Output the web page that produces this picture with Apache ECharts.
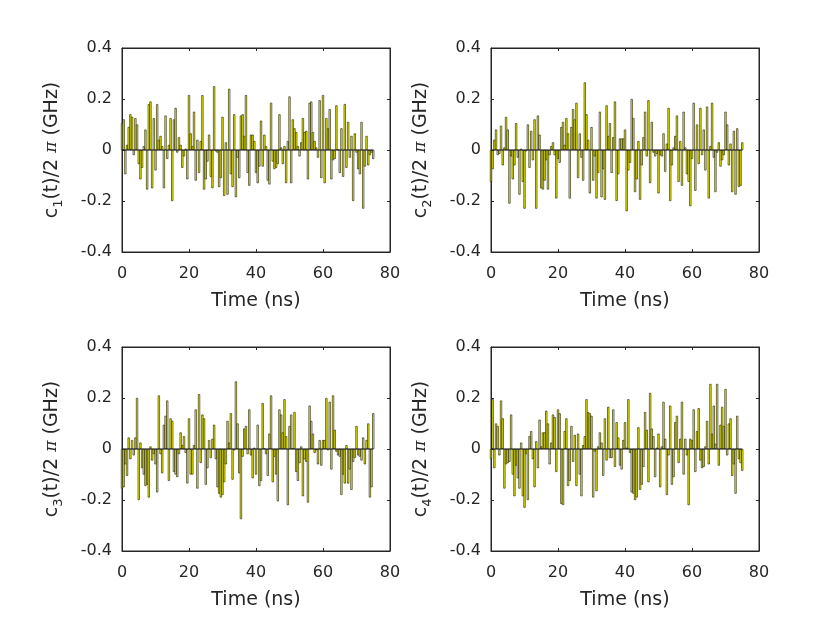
<!DOCTYPE html>
<html>
<head>
<meta charset="utf-8">
<script src="https://cdn.jsdelivr.net/npm/echarts@6/dist/echarts.min.js"></script>
<style>
  html, body { margin: 0; padding: 0; background: #fff; }
  #main { width: 840px; height: 630px; }
</style>
</head>
<body>
<div id="main"></div>
<script>
// sampling step (ns)
const dt = 0.5;

// control amplitudes c_k(t)/2pi in GHz, one value per 0.5 ns from 0 to 75 ns
const c1 = [
  0.105, 0.12, -0.095, 0.02, 0.09, 0.14, 0.13, -0.02, 0.125, 0.1,
  -0.055, -0.115, -0.07, 0.015, 0.08, -0.155, 0.18, 0.19, -0.15, 0.125,
  -0.08, 0.18, 0.04, 0.055, 0.015, -0.15, 0.135, -0.035, 0.02, 0.125,
  -0.2, 0.12, 0.165, -0.01, 0.05, 0.02, -0.07, -0.025, 0.005, -0.115,
  0.215, 0.065, 0.015, 0.15, -0.12, 0.04, -0.09, 0.035, 0.215, -0.155,
  -0.115, -0.045, 0.06, -0.105, -0.15, 0.25, -0.005, -0.01, -0.145, -0.11,
  0.13, -0.18, 0.03, -0.175, 0.24, -0.095, -0.145, 0.14, -0.185, -0.03,
  -0.11, 0.135, 0.14, 0.055, 0.215, -0.09, -0.14, 0.06, 0.06, 0.035,
  -0.09, -0.13, -0.065, 0.115, -0.065, 0.06, 0.015, -0.12, -0.135, 0.185,
  -0.045, -0.075, -0.07, -0.055, 0.14, 0.01, -0.055, 0.015, -0.13, 0.035,
  0.21, -0.13, 0.12, 0.085, 0.07, 0.015, -0.025, 0.03, 0.125, 0.07,
  0.075, -0.115, 0.185, 0.19, 0.07, 0.035, 0.01, -0.03, 0.195, -0.11,
  0.215, -0.13, 0.125, 0.085, 0.16, -0.115, -0.04, -0.035, 0.175, 0.002,
  -0.09, 0.085, -0.105, 0.18, -0.07, 0.11, -0.03, 0.055, -0.2, 0.065,
  -0.01, -0.075, -0.095, 0.11, -0.23, -0.065, 0.055, -0.06, -0.02, -0.01,
  -0.035
];
const c2 = [
  -0.125, -0.075, 0.04, 0.08, -0.02, -0.015, 0.095, -0.06, 0.01, 0.13,
  0.08, -0.21, -0.025, -0.115, -0.06, 0.105, -0.03, -0.175, 0.005, -0.125,
  -0.23, -0.005, 0.1, -0.07, 0.075, -0.04, 0.12, -0.23, 0.135, 0.06,
  -0.15, -0.155, -0.12, -0.04, -0.155, -0.02, 0.015, 0.03, -0.02, -0.19,
  -0.035, -0.05, 0.09, 0.11, 0.02, 0.125, 0.065, -0.19, 0.09, 0.16,
  0.12, 0.185, -0.11, 0.065, -0.03, -0.12, 0.265, 0.14, 0.04, -0.17,
  0.09, -0.12, -0.025, -0.19, -0.09, 0.15, -0.185, -0.075, -0.195, 0.175,
  0.055, 0.105, -0.09, 0.05, 0.19, -0.2, -0.095, 0.045, 0.045, 0.045,
  0.08, -0.24, -0.08, -0.05, 0.2, 0.125, -0.165, -0.115, 0.035, -0.195,
  -0.06, 0.05, 0.15, -0.025, 0.195, -0.13, 0.11, -0.01, -0.025, -0.015,
  -0.17, -0.02, -0.025, 0.065, -0.085, 0.025, 0.165, -0.2, -0.06, 0.01,
  0.055, 0.135, -0.125, 0.035, -0.14, 0.15, 0.01, -0.095, -0.125, -0.22,
  -0.035, 0.185, -0.16, 0.1, -0.055, 0.165, -0.02, 0.08, -0.08, 0.17,
  -0.19, 0.015, 0.185, -0.03, -0.165, -0.01, 0.03, -0.065, -0.04, -0.02,
  0.15, 0.1, -0.06, 0.025, -0.165, 0.075, -0.175, 0.085, -0.145, -0.14,
  0.03
];
const c3 = [
  -0.155, -0.15, -0.06, -0.105, 0.045, -0.04, 0.035, -0.025, 0.045, 0.2,
  -0.2, 0.025, -0.075, -0.1, -0.145, -0.14, -0.19, 0.01, -0.045, -0.02,
  -0.06, -0.17, 0.21, -0.02, -0.095, 0.095, 0.13, 0.19, -0.125, 0.12,
  0.11, -0.09, -0.1, -0.11, -0.02, 0.065, 0.015, 0.05, -0.015, -0.135,
  0.12, -0.1, -0.1, 0.015, 0.155, -0.155, 0.215, -0.055, 0.135, 0.12,
  -0.14, -0.075, 0.035, -0.035, 0.04, 0.095, -0.04, -0.15, -0.175, -0.19,
  -0.18, -0.13, -0.06, 0.11, 0.025, 0.14, -0.12, -0.005, 0.265, 0.1,
  -0.095, -0.275, -0.03, 0.08, 0.09, -0.02, 0.155, -0.025, -0.115, 0.005,
  -0.1, 0.095, -0.145, -0.125, 0.18, 0.003, -0.02, -0.105, 0.06, 0.21,
  -0.13, -0.03, -0.1, -0.205, 0.155, 0.135, 0.065, 0.195, 0.05, -0.22,
  0.09, 0.135, 0.002, 0.145, -0.09, -0.125, -0.055, 0.01, -0.185, -0.04,
  -0.05, -0.21, 0.17, 0.11, 0.06, -0.015, -0.005, -0.06, 0.035, -0.065,
  0.035, 0.035, 0.2, -0.005, 0.185, -0.08, 0.21, 0.075, -0.01, -0.025,
  -0.03, -0.18, -0.1, -0.135, 0.015, -0.135, -0.08, -0.16, -0.05, -0.035,
  0.09, -0.025, -0.03, -0.045, 0.045, -0.06, 0.035, 0.1, -0.19, -0.15,
  0.14
];
const c4 = [
  -0.04, 0.195, -0.075, 0.1, 0.09, -0.025, 0.19, 0.12, -0.155, -0.06,
  -0.055, -0.05, 0.135, -0.1, -0.185, -0.065, -0.115, -0.155, 0.025, -0.185,
  -0.23, -0.02, -0.2, 0.05, 0.07, -0.04, -0.15, 0.03, -0.075, 0.115,
  0.01, 0.065, 0.065, 0.15, 0.1, -0.06, 0.025, 0.135, 0.125, -0.09,
  0.155, 0.14, -0.215, -0.22, 0.07, 0.12, -0.145, -0.125, 0.09, -0.05,
  0.055, -0.145, 0.06, -0.1, -0.185, 0.015, 0.05, 0.195, 0.145, 0.14,
  0.13, -0.19, -0.01, -0.165, 0.01, 0.065, 0.025, -0.105, 0.12, -0.045,
  0.165, -0.035, -0.035, 0.155, -0.07, 0.105, 0.045, -0.065, -0.08,
  0.035, 0.105, 0.005, 0.195, -0.015, -0.17, -0.175, -0.2, -0.19, 0.085,
  -0.16, -0.14, -0.07, 0.145, 0.075, -0.13, 0.22, 0.08, 0.05, -0.11,
  0.005, 0.06, -0.15, 0.01, 0.185, 0.04, -0.18, -0.025, 0.17, -0.14,
  -0.11, 0.105, 0.13, -0.055, 0.04, 0.185, -0.1, 0.04, -0.025, -0.22,
  0.04, 0.035, 0.155, -0.09, 0.07, 0.16, -0.045, -0.075, -0.07, 0.01,
  0.11, -0.06, 0.255, 0.06, 0.17, 0.02, 0.255, -0.065, 0.095, 0.165, 0.09,
  0.235, -0.025, 0.1, 0.12, -0.105, -0.06, -0.175, 0.13, -0.04, -0.055,
  -0.085
];

const xTicks = [0, 20, 40, 60, 80];
const yTicks = [-0.4, -0.2, 0, 0.2, 0.4];
const subs = ['1', '2', '3', '4'];
const allSeries = [c1, c2, c3, c4];

const chart = echarts.init(document.getElementById('main'), null, { renderer: 'canvas' });

const FONT = '"DejaVu Sans", Verdana, sans-serif';
const INK = '#262626';

// subplot placement (2 x 2)
const lefts = [122, 491, 122, 491];
const tops = [48, 48, 347, 347];

const grids = [], xAxes = [], yAxes = [], series = [];

allSeries.forEach((vals, k) => {
  const times = vals.map((_, i) => i * dt);
  grids.push({
    left: lefts[k], top: tops[k], width: 268, height: 204,
    show: true, borderColor: INK, borderWidth: 1, backgroundColor: '#fff'
  });
  const tickStyle = { show: true, inside: true, length: 3, lineStyle: { color: INK, width: 1 } };
  // bottom axis
  xAxes.push({
    gridIndex: k, type: 'value', position: 'bottom',
    min: xTicks[0], max: xTicks[xTicks.length - 1], interval: 20,
    axisLine: { show: true, onZero: false, lineStyle: { color: INK } },
    axisTick: tickStyle, splitLine: { show: false },
    axisLabel: { color: INK, fontFamily: FONT, fontSize: 16, margin: 14 },
    name: 'Time (ns)', nameLocation: 'middle', nameGap: 40,
    nameTextStyle: { color: INK, fontFamily: FONT, fontSize: 19 }
  });
  // top axis (ticks only)
  xAxes.push({
    gridIndex: k, type: 'value', position: 'top',
    min: xTicks[0], max: xTicks[xTicks.length - 1], interval: 20,
    axisLine: { show: true, onZero: false, lineStyle: { color: INK } },
    axisTick: tickStyle, splitLine: { show: false }, axisLabel: { show: false }
  });
  // left axis
  yAxes.push({
    gridIndex: k, type: 'value', position: 'left',
    min: yTicks[0], max: yTicks[yTicks.length - 1], interval: 0.2,
    axisLine: { show: true, onZero: false, lineStyle: { color: INK } },
    axisTick: tickStyle, splitLine: { show: false },
    axisLabel: { color: INK, fontFamily: FONT, fontSize: 16, margin: 10,
      formatter: v => (Math.abs(v) < 1e-9 ? '0' : String(+v.toFixed(1))) },
    name: '{m|c}{s|' + subs[k] + '}{m|(t)/2 }{p|π}{m| (GHz)}',
    nameLocation: 'middle', nameGap: 57, nameRotate: 90,
    nameTextStyle: {
      rich: {
        m: { color: INK, fontFamily: FONT, fontSize: 19, lineHeight: 26, verticalAlign: 'middle' },
        p: { color: INK, fontFamily: '"DejaVu Serif", serif', fontStyle: 'italic', fontSize: 17, lineHeight: 26, verticalAlign: 'middle' },
        s: { color: INK, fontFamily: FONT, fontSize: 13, lineHeight: 13, verticalAlign: 'bottom' }
      }
    }
  });
  // right axis (ticks only)
  yAxes.push({
    gridIndex: k, type: 'value', position: 'right',
    min: yTicks[0], max: yTicks[yTicks.length - 1], interval: 0.2,
    axisLine: { show: true, onZero: false, lineStyle: { color: INK } },
    axisTick: tickStyle, splitLine: { show: false }, axisLabel: { show: false }
  });

  series.push({
    type: 'bar',
    xAxisIndex: 2 * k, yAxisIndex: 2 * k,
    data: times.map((t, i) => [t, vals[i]]),
    barWidth: 2.1,
    itemStyle: { color: '#ffff00', borderColor: '#111', borderWidth: 0.6 },
    silent: true
  });
  // bar baseline across the sampled range
  series.push({
    type: 'line',
    xAxisIndex: 2 * k, yAxisIndex: 2 * k,
    data: [[times[0], 0], [times[times.length - 1], 0]],
    symbol: 'none',
    lineStyle: { color: '#1a1a1a', width: 1 },
    silent: true, z: 5
  });
});

chart.setOption({
  animation: false,
  backgroundColor: '#fff',
  grid: grids,
  xAxis: xAxes,
  yAxis: yAxes,
  series: series
});
</script>
</body>
</html>
